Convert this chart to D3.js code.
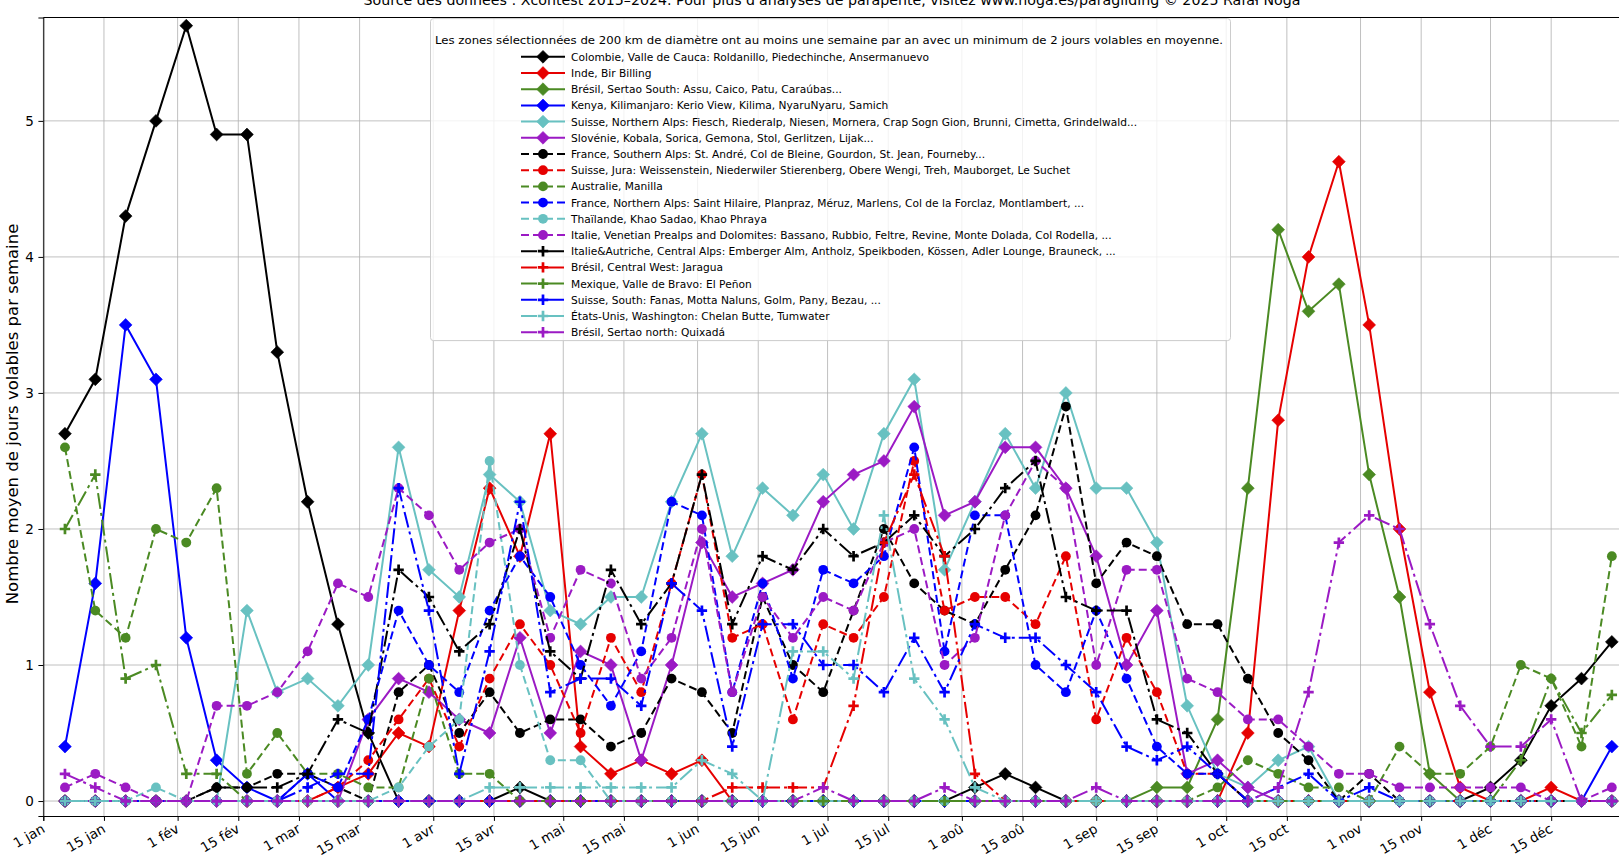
<!DOCTYPE html>
<meta charset="utf-8">
<style>
body { margin: 0; background: #fff; }
text { font-family: "DejaVu Sans", sans-serif; fill: #000; }
.grid line { stroke: #b0b0b0; stroke-width: 0.8; }
.axis path, .axis line { stroke: #000; stroke-width: 1; }
.axis text { font-size: 13.5px; }
</style>
<body>
<script src="https://d3js.org/d3.v7.min.js"></script>
<script>
// weekly averages (52 weeks)
var colombie   = [2.7,3.1,4.3,5.0,5.7,4.9,4.9,3.3,2.2,1.3, 0.5,0,0,0,0,0.1,0,0,0,0, 0,0,0,0,0,0,0,0,0,0, 0.1,0.2,0.1,0,0,0,0,0,0,0, 0,0,0,0,0,0,0,0.1,0.3,0.7, 0.9,1.17];
var inde       = [0,0,0,0,0,0,0,0,0,0.1, 0.2,0.5,0.4,1.4,2.3,1.8,2.7,0.4,0.2,0.3, 0.2,0.3,0,0,0,0,0,0,0,0, 0,0,0,0,0,0,0,0,0,0.5, 2.8,4.0,4.7,3.5,2.0,0.8,0.1,0,0,0.1, 0,0];
var bresilSud  = [0,0,0,0,0,0,0,0,0,0, 0,0,0,0,0,0,0,0,0,0, 0,0,0,0,0,0,0,0,0,0, 0,0,0,0,0,0,0.1,0.1,0.6,2.3, 4.2,3.6,3.8,2.4,1.5,0.2,0,0,0,0, 0,0];
var kenya      = [0.4,1.6,3.5,3.1,1.2,0.3,0.1,0,0.2,0, 0,0,0,0,0,0,0,0,0,0, 0,0,0,0,0,0,0,0,0,0, 0,0,0,0,0,0,0,0,0,0, 0,0,0,0,0,0,0,0,0,0, 0,0.4];
var suisseNord = [0,0,0,0,0,0,1.4,0.8,0.9,0.7, 1.0,2.6,1.7,1.5,2.4,2.2,1.4,1.3,1.5,1.5, 2.2,2.7,1.8,2.3,2.1,2.4,2.0,2.7,3.1,1.7, 2.2,2.7,2.3,3.0,2.3,2.3,1.9,0.7,0.2,0.1, 0.3,0.4,0,0,0,0,0,0,0,0, 0,0];
var slovenie   = [0,0,0,0,0,0,0,0,0,0, 0.6,0.9,0.8,0.6,0.5,1.2,0.5,1.1,1.0,0.3, 1.0,1.9,1.5,1.6,1.7,2.2,2.4,2.5,2.9,2.1, 2.2,2.6,2.6,2.3,1.8,1.0,1.4,0.2,0.3,0.1, 0,0,0,0,0,0,0,0,0,0, 0,0];
var franceSud  = [0,0,0,0,0,0.1,0.1,0.2,0.2,0.1, 0,0.8,1.0,0.5,0.8,0.5,0.6,0.6,0.4,0.5, 0.9,0.8,0.5,1.5,1.0,0.8,1.4,2.0,1.6,1.4, 1.3,1.7,2.1,2.9,1.6,1.9,1.8,1.3,1.3,0.9, 0.5,0.3,0,0.2,0,0,0,0,0,0, 0,0];
var jura       = [0,0,0,0,0,0,0,0,0,0.1, 0.3,0.6,0.9,0.4,0.9,1.3,1.0,0.5,1.2,0.8, 1.6,2.4,1.2,1.3,0.6,1.3,1.2,1.5,2.5,1.4, 1.5,1.5,1.3,1.8,0.6,1.2,0.8,0.2,0.2,0, 0,0,0,0,0,0,0,0,0,0, 0,0];
var australie  = [2.6,1.4,1.2,2.0,1.9,2.3,0.2,0.5,0.2,0.2, 0.1,0.1,0.9,0.2,0.2,0,0,0,0,0, 0,0,0,0,0,0,0,0,0,0, 0,0,0,0,0,0,0,0,0.1,0.3, 0.2,0.1,0.1,0,0.4,0.2,0.2,0.4,1.0,0.9, 0.4,1.8];
var franceNord = [0,0,0,0,0,0,0,0,0.2,0.1, 0.6,1.4,1.0,0.8,1.4,1.8,1.5,1.0,0.7,1.1, 2.2,2.1,0.8,1.6,0.9,1.7,1.6,1.8,2.6,1.1, 2.1,2.1,1.0,0.8,1.4,0.9,0.4,0.2,0.2,0, 0,0,0,0,0,0,0,0,0,0, 0,0];
var thailande  = [0,0,0,0.1,0,0,0,0,0,0, 0,0.1,0.4,0.6,2.5,1.0,0.3,0.3,0,0, 0,0,0,0,0,0,0,0,0,0, 0,0,0,0,0,0,0,0,0,0, 0,0,0,0,0,0,0,0,0,0, 0,0];
var italieVen  = [0.1,0.2,0.1,0,0,0.7,0.7,0.8,1.1,1.6, 1.5,2.3,2.1,1.7,1.9,2.0,1.2,1.7,1.6,0.9, 1.2,2.0,0.8,1.5,1.2,1.5,1.4,1.9,2.0,1.0, 1.2,2.1,2.5,2.3,1.0,1.7,1.7,0.9,0.8,0.6, 0.6,0.4,0.2,0.2,0.1,0.1,0.1,0.1,0.1,0, 0,0.1];
var italieAut  = [0,0,0,0,0,0.1,0.1,0.1,0.2,0.6, 0.5,1.7,1.5,1.1,1.3,2.0,1.1,0.9,1.7,1.3, 1.6,2.4,1.3,1.8,1.7,2.0,1.8,1.9,2.1,1.8, 2.0,2.3,2.5,1.5,1.4,1.4,0.6,0.5,0.2,0, 0,0,0,0,0,0,0,0,0,0, 0,0];
var bresilCO   = [0,0,0,0,0,0,0,0,0,0, 0,0,0,0,0,0,0,0,0,0, 0,0,0.1,0.1,0.1,0.1,0.7,1.9,2.4,1.8, 0.2,0,0,0,0,0,0,0,0,0, 0,0,0,0,0,0,0,0,0,0, 0,0];
var mexique    = [2.0,2.4,0.9,1.0,0.2,0.2,0,0,0,0, 0,0,0,0,0,0,0,0,0,0, 0,0,0,0,0,0,0,0,0,0, 0,0,0,0,0,0,0,0,0,0, 0,0,0,0,0,0,0,0,0.3,0.9, 0.5,0.78];
var suisseSud  = [0,0,0,0,0,0,0,0,0.1,0.2, 0.2,2.3,1.4,0.2,1.1,2.2,0.8,0.9,0.9,0.7, 1.6,1.4,0.4,1.3,1.3,1.0,1.0,0.8,1.2,0.8, 1.3,1.2,1.2,1.0,0.8,0.4,0.3,0.4,0.2,0, 0.1,0.2,0,0.1,0,0,0,0,0,0, 0,0];
var etatsUnis  = [0,0,0,0,0,0,0,0,0,0, 0,0,0,0,0.1,0.1,0.1,0.1,0.1,0.1, 0.1,0.3,0.2,0,1.1,1.1,0.9,2.1,0.9,0.6, 0.1,0,0,0,0,0,0,0,0,0, 0,0,0,0,0,0,0,0,0,0, 0,0];
var bresilNord = [0.2,0.1,0,0,0,0,0,0,0,0, 0,0,0,0,0,0,0,0,0,0, 0,0,0,0,0,0.1,0,0,0,0.1, 0,0,0,0,0.1,0,0,0,0,0, 0.1,0.8,1.9,2.1,2.0,1.3,0.7,0.4,0.4,0.6, 0,0];

var names = [
  "Colombie, Valle de Cauca: Roldanillo, Piedechinche, Ansermanuevo",
  "Inde, Bir Billing",
  "Brésil, Sertao South: Assu, Caico, Patu, Caraúbas...",
  "Kenya, Kilimanjaro: Kerio View, Kilima, NyaruNyaru, Samich",
  "Suisse, Northern Alps: Fiesch, Riederalp, Niesen, Mornera, Crap Sogn Gion, Brunni, Cimetta, Grindelwald...",
  "Slovénie, Kobala, Sorica, Gemona, Stol, Gerlitzen, Lijak...",
  "France, Southern Alps: St. André, Col de Bleine, Gourdon, St. Jean, Fourneby...",
  "Suisse, Jura: Weissenstein, Niederwiler Stierenberg, Obere Wengi, Treh, Mauborget, Le Suchet",
  "Australie, Manilla",
  "France, Northern Alps: Saint Hilaire, Planpraz, Méruz, Marlens, Col de la Forclaz, Montlambert, ...",
  "Thaïlande, Khao Sadao, Khao Phraya",
  "Italie, Venetian Prealps and Dolomites: Bassano, Rubbio, Feltre, Revine, Monte Dolada, Col Rodella, ...",
  "Italie&Autriche, Central Alps: Emberger Alm, Antholz, Speikboden, Kössen, Adler Lounge, Brauneck, ...",
  "Brésil, Central West: Jaragua",
  "Mexique, Valle de Bravo: El Peñon",
  "Suisse, South: Fanas, Motta Naluns, Golm, Pany, Bezau, ...",
  "États-Unis, Washington: Chelan Butte, Tumwater",
  "Brésil, Sertao north: Quixadá"
];
var allValues = [colombie, inde, bresilSud, kenya, suisseNord, slovenie,
                 franceSud, jura, australie, franceNord, thailande, italieVen,
                 italieAut, bresilCO, mexique, suisseSud, etatsUnis, bresilNord];

var tickLabels = ["1 jan","15 jan","1 fév","15 fév","1 mar","15 mar","1 avr","15 avr",
                  "1 mai","15 mai","1 jun","15 jun","1 jul","15 jul","1 aoû","15 aoû",
                  "1 sep","15 sep","1 oct","15 oct","1 nov","15 nov","1 déc","15 déc"];
var yTicks = [0, 1, 2, 3, 4, 5];

var titleText = "Source des données : Xcontest 2015–2024. Pour plus d'analyses de parapente, visitez www.noga.es/paragliding © 2025 Rafał Noga";
var legendTitle = "Les zones sélectionnées de 200 km de diamètre ont au moins une semaine par an avec un minimum de 2 jours volables en moyenne.";
var yLabel = "Nombre moyen de jours volables par semaine";

// styles: colour cycle x marker/line style
var colors = ["#000000", "#e60000", "#4b8a23", "#0000ff", "#68c1c1", "#9b1ac4"];
var kinds = [
  {marker: "diamond", dash: null},
  {marker: "circle", dash: "8,4"},
  {marker: "plus", dash: "16,4,3,4"}
];

var firstWeek = new Date(Date.UTC(2023, 0, 6));

var margin = {top: 17.5, left: 43.3},
    width = 1620.5 - margin.left,
    height = 816 - margin.top;

var x = d3.scaleUtc()
    .domain([new Date(Date.UTC(2023, 0, 1)), new Date(Date.UTC(2023, 11, 31))])
    .range([0, width]);
var y = d3.scaleLinear()
    .domain([-0.11, 5.76])
    .range([height, 0]);

var tickDates = d3.utcMonth.range(new Date(Date.UTC(2023, 0, 1)), new Date(Date.UTC(2024, 0, 1)))
    .flatMap(function(m) { return [m, d3.utcDay.offset(m, 14)]; });

var svg = d3.select("body").append("svg")
    .attr("width", 1619)
    .attr("height", 857);

// the title sits half outside the picture, as in the original crop
svg.append("text")
    .attr("x", 832).attr("y", 5)
    .attr("text-anchor", "middle")
    .style("font-size", "14px")
    .attr("textLength", 937)
    .attr("lengthAdjust", "spacingAndGlyphs")
    .text(titleText);

var g = svg.append("g")
    .attr("transform", "translate(" + margin.left + "," + margin.top + ")");

// grid
var grid = g.append("g").attr("class", "grid");
grid.selectAll(".vx").data(tickDates).enter().append("line")
    .attr("x1", function(d) { return x(d); }).attr("x2", function(d) { return x(d); })
    .attr("y1", 0).attr("y2", height);
grid.selectAll(".hy").data(yTicks).enter().append("line")
    .attr("x1", 0).attr("x2", width)
    .attr("y1", function(d) { return y(d); }).attr("y2", function(d) { return y(d); });

function markerPath(kind) {
  if (kind == "diamond") return "M0,-6.4L6.4,0L0,6.4L-6.4,0Z";
  if (kind == "plus") return "M-5.2,0H5.2M0,-5.2V5.2";
  return null;
}

function drawMarker(sel, kind, color) {
  if (kind == "circle") {
    sel.append("circle").attr("r", 4.9).attr("fill", color);
  } else if (kind == "diamond") {
    sel.append("path").attr("d", markerPath(kind)).attr("fill", color)
      .attr("stroke", color).attr("stroke-width", 0.6);
  } else {
    sel.append("path").attr("d", markerPath(kind)).attr("fill", "none")
      .attr("stroke", color).attr("stroke-width", 2.7);
  }
}

var line = d3.line()
    .x(function(d, i) { return x(d3.utcDay.offset(firstWeek, 7 * i)); })
    .y(function(d) { return y(d); });

allValues.forEach(function(vals, s) {
  var color = colors[s % 6], kind = kinds[Math.floor(s / 6)];
  var sg = g.append("g");
  sg.append("path")
      .attr("d", line(vals))
      .attr("fill", "none")
      .attr("stroke", color)
      .attr("stroke-width", 2)
      .attr("stroke-dasharray", kind.dash);
  vals.forEach(function(v, i) {
    var m = sg.append("g")
      .attr("transform", "translate(" + x(d3.utcDay.offset(firstWeek, 7 * i)) + "," + y(v) + ")");
    drawMarker(m, kind.marker, color);
  });
});

// axes
var xAxis = g.append("g")
    .attr("class", "axis")
    .attr("transform", "translate(0," + height + ")")
    .call(d3.axisBottom(x).tickValues(tickDates).tickSizeOuter(0).tickSize(4.9)
      .tickFormat(function(d, i) { return tickLabels[i]; }));
xAxis.selectAll("text")
    .attr("text-anchor", "end")
    .attr("dy", null)
    .attr("y", null)
    .attr("transform", "translate(0,12) rotate(-30)")
    .attr("dominant-baseline", "middle");

g.append("g")
    .attr("class", "axis")
    .call(d3.axisLeft(y).tickValues(yTicks).tickSizeOuter(0).tickSize(4.9).tickPadding(4.5)
      .tickFormat(d3.format("d")));

g.append("line").attr("x1", 0).attr("x2", width).attr("y1", 0).attr("y2", 0)
    .attr("stroke", "#000").attr("stroke-width", 1);

svg.append("text")
    .attr("transform", "translate(18,414) rotate(-90)")
    .attr("text-anchor", "middle")
    .style("font-size", "16.5px")
    .text(yLabel);

// legend
var legend = svg.append("g");
legend.append("rect")
    .attr("x", 430.5).attr("y", 18.6)
    .attr("width", 800).attr("height", 322)
    .attr("rx", 3)
    .attr("fill", "#fff").attr("fill-opacity", 0.8)
    .attr("stroke", "#cccccc").attr("stroke-width", 1);
legend.append("text")
    .attr("x", 829).attr("y", 44)
    .attr("text-anchor", "middle")
    .style("font-size", "11px")
    .attr("textLength", 788)
    .attr("lengthAdjust", "spacingAndGlyphs")
    .text(legendTitle);

var entryTexts = [];
names.forEach(function(name, s) {
  var color = colors[s % 6], kind = kinds[Math.floor(s / 6)];
  var cy = 56.8 + s * 16.2;
  var e = legend.append("g");
  e.append("line")
      .attr("x1", 521).attr("x2", 565)
      .attr("y1", cy).attr("y2", cy)
      .attr("stroke", color).attr("stroke-width", 2)
      .attr("stroke-dasharray", kind.dash);
  drawMarker(e.append("g").attr("transform", "translate(543," + cy + ")"), kind.marker, color);
  entryTexts.push(e.append("text")
      .attr("x", 571).attr("y", cy + 4)
      .style("font-size", "11px")
      .text(name));
});
// squeeze legend labels to the narrow face of the original
var k = 358 / entryTexts[0].node().getComputedTextLength();
entryTexts.forEach(function(t) {
  t.attr("textLength", t.node().getComputedTextLength() * k)
   .attr("lengthAdjust", "spacingAndGlyphs");
});
</script>
</body>
